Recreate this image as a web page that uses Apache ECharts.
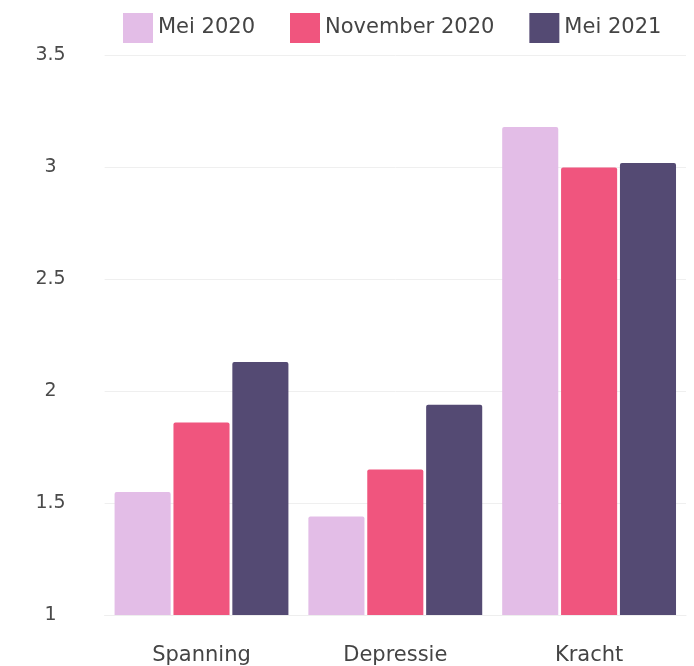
<!DOCTYPE html>
<html>
<head>
<meta charset="utf-8">
<script src="https://cdn.jsdelivr.net/npm/echarts@6/dist/echarts.min.js"></script>
<style>
  html, body { margin: 0; padding: 0; background: #fff; }
  #chart { width: 694px; height: 666px; }
</style>
</head>
<body>
<div id="chart"></div>
<script>
// Categories and survey periods
const categories = ['Spanning', 'Depressie', 'Kracht'];
const seriesNames = ['Mei 2020', 'November 2020', 'Mei 2021'];

// Average scores per period
const mei2020 = [1.55, 1.44, 3.18];
const november2020 = [1.86, 1.65, 3.00];
const mei2021 = [2.13, 1.94, 3.02];

const colors = ['#E3BDE7', '#F0557E', '#544A73'];
const fontFamily = '"DejaVu Sans", sans-serif';

const chart = echarts.init(document.getElementById('chart'), null, { renderer: 'canvas' });

const values = [mei2020, november2020, mei2021];

chart.setOption({
  animation: false,
  color: colors,
  legend: {
    left: 118,
    top: 8,
    itemWidth: 30,
    itemHeight: 30,
    itemGap: 35,
    icon: 'rect',
    textStyle: { fontFamily, fontSize: 21, color: '#444' },
    data: seriesNames
  },
  grid: { left: 104.6, right: 8, top: 55.5, bottom: 50.5 },
  xAxis: {
    type: 'category',
    data: categories,
    axisLine: { show: true, lineStyle: { color: '#eeeeee' } },
    axisTick: { show: false },
    axisLabel: { fontFamily, fontSize: 21, color: '#444', margin: 30 }
  },
  yAxis: {
    type: 'value',
    min: 1,
    max: 3.5,
    interval: 0.5,
    axisLine: { show: false },
    axisTick: { show: false },
    splitLine: { lineStyle: { color: '#efefef' } },
    axisLabel: { fontFamily, fontSize: 19, color: '#4a4a4a', align: 'center', margin: 54 }
  },
  series: seriesNames.map((name, i) => ({
    name,
    type: 'bar',
    data: values[i],
    barGap: '5%',
    barCategoryGap: '10.3%',
    itemStyle: { color: colors[i], borderRadius: [2, 2, 0, 0] }
  }))
});
</script>
</body>
</html>
